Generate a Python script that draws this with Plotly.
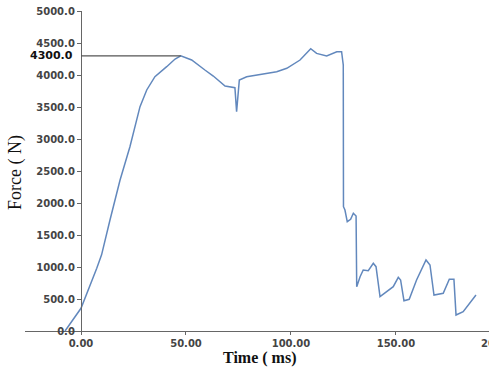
import plotly.graph_objects as go

# ---- data ----
time_ms = [-7.6, 0.0, 7.5, 9.8, 13.8, 17.0, 18.6, 23.3, 28.1, 31.3, 35.2, 40.8, 44.8, 47.5,
           52.7, 59.0, 63.0, 68.6, 73.3, 74.1, 75.4, 78.9, 88.4, 93.2, 98.0, 104.3, 109.4,
           112.2, 117.0, 121.8, 124.1, 124.9, 125.0, 125.7, 126.8, 128.4, 129.7, 131.0,
           131.3, 132.9, 134.4, 136.8, 139.2, 140.5, 142.4, 145.6, 148.7, 151.1, 152.2,
           153.8, 156.3, 159.8, 164.3, 166.2, 168.1, 172.5, 175.4, 177.6, 178.6, 182.0,
           185.2, 188.1]
force_n = [0, 355, 980, 1190, 1734, 2150, 2360, 2880, 3505, 3766, 3973, 4130, 4250, 4300,
           4234, 4078, 3984, 3828, 3802, 3427, 3922, 3973, 4027, 4052, 4105, 4234, 4411,
           4338, 4297, 4364, 4364, 4156, 1942, 1890, 1708, 1745, 1839, 1797,
           692, 848, 953, 942, 1058, 1005, 536, 614, 692, 839, 797,
           473, 495, 797, 1109, 1031, 562, 589, 808, 808, 250, 302,
           433, 562]

y_tick_vals = [0, 500, 1000, 1500, 2000, 2500, 3000, 3500, 4000, 4500, 5000]
y_tick_text = ["0.0", "500.0", "1000.0", "1500.0", "2000.0", "2500.0", "3000.0",
               "3500.0", "4000.0", "4500.0", "5000.0"]
x_tick_vals = [0, 50, 100, 150]
x_tick_text = ["0.00", "50.00", "100.00", "150.00"]
extra_x_tick_val = 200
extra_x_tick_text = "200.00"

peak_time = 47.5
peak_force = 4300
peak_label = "4300.0"

# ---- layout geometry ----
W, H = 489, 376
ML, MR, MT, MB = 25, 0, 11, 45
x_range = [-26.67, 194.3]
plot_w = W - ML - MR


def xpaper(v):
    return (v - x_range[0]) / (x_range[1] - x_range[0])


tick_font = dict(family="DejaVu Sans", size=10, color="#444444", weight="bold")

fig = go.Figure()
fig.add_trace(go.Scatter(
    x=time_ms, y=force_n, mode="lines",
    line=dict(color="#6288bd", width=1.5),
    showlegend=False, hoverinfo="skip", cliponaxis=False,
))

# horizontal reference line to the peak
fig.add_shape(type="line", xref="x", yref="y",
              x0=0, x1=peak_time, y0=peak_force, y1=peak_force,
              line=dict(color="#555555", width=1.2))

fig.update_layout(
    width=W, height=H,
    margin=dict(l=ML, r=MR, t=MT, b=MB, autoexpand=False),
    paper_bgcolor="white", plot_bgcolor="white",
    xaxis=dict(range=x_range, showgrid=False, zeroline=False,
               showline=True, linecolor="#666666", linewidth=1.3,
               ticks="outside", ticklen=3, tickcolor="#666666",
               tickvals=x_tick_vals, ticktext=x_tick_text,
               tickfont=tick_font, automargin=False),
    yaxis=dict(range=[0, 5000], showgrid=False, zeroline=False,
               anchor="free", position=xpaper(0),
               showline=True, linecolor="#666666", linewidth=1.3,
               ticks="outside", ticklen=4, tickcolor="#666666",
               tickvals=y_tick_vals, ticktext=y_tick_text,
               tickfont=tick_font, automargin=False),
    annotations=[
        dict(text=peak_label, xref="paper", yref="y", x=xpaper(0) - 6 / plot_w,
             y=peak_force, xanchor="right", yanchor="middle", showarrow=False,
             font=dict(family="DejaVu Sans", size=11, color="#111111", weight="bold")),
        dict(text=extra_x_tick_text, xref="paper", yref="paper", x=xpaper(extra_x_tick_val),
             y=0, yshift=-12, xanchor="center", yanchor="middle", showarrow=False,
             font=tick_font),
        dict(text="Force ( N)", xref="paper", yref="paper", x=(15 - ML) / plot_w,
             y=(H - MB - 173) / (H - MT - MB), textangle=-90, showarrow=False,
             xanchor="center", yanchor="middle",
             font=dict(family="Liberation Serif", size=18, color="#111111")),
        dict(text="Time ( ms)", xref="paper", yref="paper", x=(259 - ML) / plot_w,
             y=0, yshift=-27, showarrow=False, xanchor="center", yanchor="middle",
             font=dict(family="Liberation Serif", size=16, color="#111111", weight="bold")),
    ],
)

fig.write_html("out.html",
               config={"displayModeBar": False},
               post_script="document.body.style.margin='0';document.body.style.overflow='hidden';")
